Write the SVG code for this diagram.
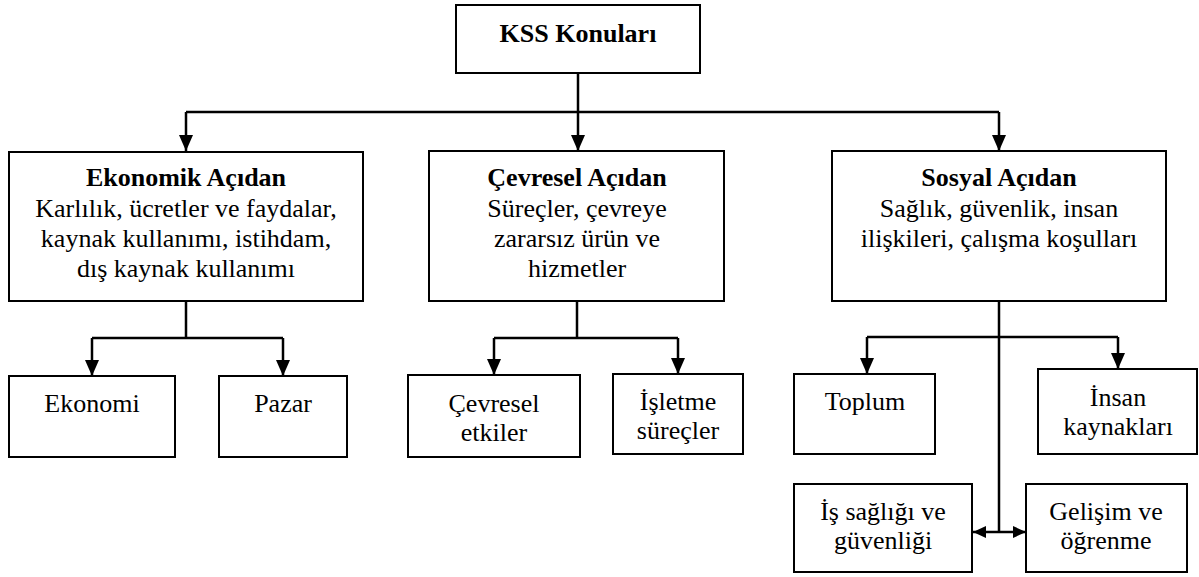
<svg xmlns="http://www.w3.org/2000/svg" width="1199" height="577" viewBox="0 0 1199 577" font-family="Liberation Serif">
<style>
.box{fill:#fff;stroke:#000;stroke-width:2}
.c{fill:none;stroke:#000;stroke-width:2.5}
</style>
<defs>
<marker id="ah" viewBox="0 0 16 14" refX="16" refY="7" markerWidth="16" markerHeight="14" orient="auto" markerUnits="userSpaceOnUse"><path d="M0,0 L16,7 L0,14 z" fill="#000"/></marker>
<marker id="as" viewBox="0 0 13 12" refX="13" refY="6" markerWidth="13" markerHeight="12" orient="auto" markerUnits="userSpaceOnUse"><path d="M0,0 L13,6 L0,12 z" fill="#000"/></marker>
</defs>
<rect width="1199" height="577" fill="#fff"/>
<g id="connectors">
<path class="c" d="M578,73 V112"/>
<path class="c" d="M186,112 H999"/>
<path class="c" d="M186,112 V151" marker-end="url(#ah)"/>
<path class="c" d="M578,112 V151" marker-end="url(#ah)"/>
<path class="c" d="M999,112 V151" marker-end="url(#ah)"/>
<path class="c" d="M186,301 V338 M92,338 H283"/>
<path class="c" d="M92,338 V376" marker-end="url(#ah)"/>
<path class="c" d="M283,338 V376" marker-end="url(#ah)"/>
<path class="c" d="M577,301 V338 M494,338 H678"/>
<path class="c" d="M494,338 V375" marker-end="url(#ah)"/>
<path class="c" d="M678,338 V374" marker-end="url(#ah)"/>
<path class="c" d="M999,301 V532 M867,337 H1118"/>
<path class="c" d="M867,337 V374" marker-end="url(#ah)"/>
<path class="c" d="M1118,337 V369" marker-end="url(#ah)"/>
<path class="c" d="M999,532 H973" marker-end="url(#as)"/>
<path class="c" d="M999,532 H1026" marker-end="url(#as)"/>
</g>
<g id="kss">
<rect class="box" x="456" y="5" width="244" height="68"/>
<text x="578" y="42" font-family="Liberation Serif" font-size="26" text-anchor="middle" font-weight="bold" style="font-family:'Liberation Serif'">KSS Konuları</text>
</g>
<g id="ekonomik">
<rect class="box" x="9" y="152" width="354" height="149"/>
<text x="186" y="186" font-family="Liberation Serif" font-size="26" text-anchor="middle" font-weight="bold" style="font-family:'Liberation Serif'">Ekonomik Açıdan</text>
<text x="186" y="217" font-family="Liberation Serif" font-size="26" text-anchor="middle" style="font-family:'Liberation Serif'">Karlılık, ücretler ve faydalar,</text>
<text x="186" y="247" font-family="Liberation Serif" font-size="26" text-anchor="middle" style="font-family:'Liberation Serif'">kaynak kullanımı, istihdam,</text>
<text x="186" y="277" font-family="Liberation Serif" font-size="26" text-anchor="middle" style="font-family:'Liberation Serif'">dış kaynak kullanımı</text>
</g>
<g id="cevresel">
<rect class="box" x="429" y="151" width="295" height="150"/>
<text x="577" y="186" font-family="Liberation Serif" font-size="26" text-anchor="middle" font-weight="bold" style="font-family:'Liberation Serif'">Çevresel Açıdan</text>
<text x="577" y="217" font-family="Liberation Serif" font-size="26" text-anchor="middle" style="font-family:'Liberation Serif'">Süreçler, çevreye</text>
<text x="577" y="247" font-family="Liberation Serif" font-size="26" text-anchor="middle" style="font-family:'Liberation Serif'">zararsız ürün ve</text>
<text x="577" y="277" font-family="Liberation Serif" font-size="26" text-anchor="middle" style="font-family:'Liberation Serif'">hizmetler</text>
</g>
<g id="sosyal">
<rect class="box" x="832" y="151" width="334" height="150"/>
<text x="999" y="186" font-family="Liberation Serif" font-size="26" text-anchor="middle" font-weight="bold" style="font-family:'Liberation Serif'">Sosyal Açıdan</text>
<text x="999" y="217" font-family="Liberation Serif" font-size="26" text-anchor="middle" style="font-family:'Liberation Serif'">Sağlık, güvenlik, insan</text>
<text x="999" y="247" font-family="Liberation Serif" font-size="26" text-anchor="middle" style="font-family:'Liberation Serif'">ilişkileri, çalışma koşulları</text>
</g>
<g id="ekonomi">
<rect class="box" x="9" y="376" width="166" height="81"/>
<text x="92" y="412" font-family="Liberation Serif" font-size="26" text-anchor="middle" style="font-family:'Liberation Serif'">Ekonomi</text>
</g>
<g id="pazar">
<rect class="box" x="219" y="376" width="128" height="81"/>
<text x="283" y="412" font-family="Liberation Serif" font-size="26" text-anchor="middle" style="font-family:'Liberation Serif'">Pazar</text>
</g>
<g id="cevresel-etkiler">
<rect class="box" x="408" y="375" width="172" height="82"/>
<text x="494" y="412" font-family="Liberation Serif" font-size="26" text-anchor="middle" style="font-family:'Liberation Serif'">Çevresel</text>
<text x="494" y="441" font-family="Liberation Serif" font-size="26" text-anchor="middle" style="font-family:'Liberation Serif'">etkiler</text>
</g>
<g id="isletme">
<rect class="box" x="613" y="374" width="130" height="80"/>
<text x="678" y="410" font-family="Liberation Serif" font-size="26" text-anchor="middle" style="font-family:'Liberation Serif'">İşletme</text>
<text x="678" y="439" font-family="Liberation Serif" font-size="26" text-anchor="middle" style="font-family:'Liberation Serif'">süreçler</text>
</g>
<g id="toplum">
<rect class="box" x="794" y="374" width="141" height="80"/>
<text x="865" y="410" font-family="Liberation Serif" font-size="26" text-anchor="middle" style="font-family:'Liberation Serif'">Toplum</text>
</g>
<g id="insan">
<rect class="box" x="1038" y="369" width="159" height="85"/>
<text x="1118" y="406" font-family="Liberation Serif" font-size="26" text-anchor="middle" style="font-family:'Liberation Serif'">İnsan</text>
<text x="1118" y="435" font-family="Liberation Serif" font-size="26" text-anchor="middle" style="font-family:'Liberation Serif'">kaynakları</text>
</g>
<g id="is-sagligi">
<rect class="box" x="794" y="484" width="178" height="88"/>
<text x="883" y="520" font-family="Liberation Serif" font-size="26" text-anchor="middle" style="font-family:'Liberation Serif'">İş sağlığı ve</text>
<text x="883" y="549" font-family="Liberation Serif" font-size="26" text-anchor="middle" style="font-family:'Liberation Serif'">güvenliği</text>
</g>
<g id="gelisim">
<rect class="box" x="1026" y="484" width="161" height="88"/>
<text x="1106" y="520" font-family="Liberation Serif" font-size="26" text-anchor="middle" style="font-family:'Liberation Serif'">Gelişim ve</text>
<text x="1106" y="549" font-family="Liberation Serif" font-size="26" text-anchor="middle" style="font-family:'Liberation Serif'">öğrenme</text>
</g>
</svg>
